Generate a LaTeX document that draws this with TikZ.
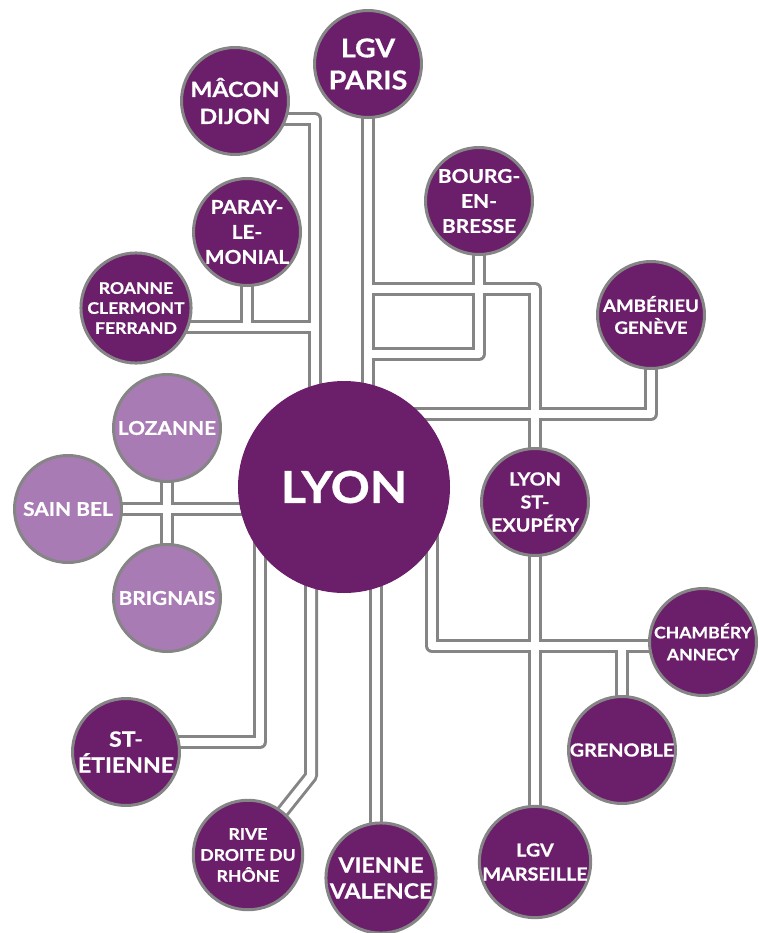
\documentclass[tikz,border=0pt]{standalone}
\usepackage{fontspec}
\setmainfont{Lato}[BoldFeatures={FakeStretch=1.1,FakeBold=0.7}]
\usetikzlibrary{backgrounds}
\definecolor{plum}{HTML}{6B1F6B}
\definecolor{lilac}{HTML}{A97BB4}
\definecolor{rim}{HTML}{858585}
\tikzset{
  stn/.style={circle, fill=plum, draw=rim, line width=3pt, minimum size=107pt,
    inner sep=0pt, text=white, align=center},
  lightstn/.style={stn, fill=lilac},
  hub/.style={circle, fill=plum, minimum size=212pt, inner sep=0pt, text=white,
    font=\bfseries\fontsize{44}{50}\selectfont},
  fs/.style 2 args={font=\bfseries\fontsize{#1}{#2}\selectfont},
  railout/.style={draw=rim, line width=14pt, line join=round, line cap=butt},
  railin/.style={draw=white, line width=8pt, line join=round, line cap=butt}
}
\newcommand\railnet[1]{%
  \draw[#1] (mac.center |- kMac) -- (kMac) -- (kMac |- lyon.center);
  \draw[#1] (roa.center |- kRoa) -- (kRoa);
  \draw[#1] (par.center) -- (par.center |- kRoa);
  \draw[#1] (lgv.center) -- (lgv.center |- lyon.center);
  \draw[#1] (lgv.center |- kPS) -- (kPS) -- (stx.center);
  \draw[#1] (bou.center) -- (kBou) -- (lgv.center |- kBou);
  \draw[#1] (amb.center) -- (kAmb) -- (lyon.center |- kAmb);
  \draw[#1] (stx.center) -- (mar.center);
  \draw[#1] (kCha |- lyon.center) -- (kCha) -- (cha.center |- kCha);
  \draw[#1] (gre.center |- kCha) -- (gre.center);
  \draw[#1] (kSte |- lyon.center) -- (kSte) -- (ste.center |- kSte);
  \draw[#1] (kRiv |- lyon.center) -- (kRiv) -- (riv.center);
  \draw[#1] (kVie |- lyon.center) -- (kVie |- vie.center);
  \draw[#1] (sai.center) -- (sai.center -| lyon.center);
  \draw[#1] (loz.center) -- (bri.center);
}
\begin{document}
\begin{tikzpicture}[x=1pt, y=-1pt]
\useasboundingbox (0,0) rectangle (758,933);
% stations
\node[hub] (lyon) at (344,487) {LYON};
\node[stn, fs={26}{32}] (lgv) at (368,64) {LGV\\PARIS};
\node[stn, fs={21}{27}] (mac) at (235,101) {MÂCON\\DIJON};
\node[stn, fs={19}{25}] (par) at (247,232) {PARAY-\\LE-\\MONIAL};
\node[stn, fs={16}{20}] (roa) at (136,308) {ROANNE\\CLERMONT\\FERRAND};
\node[stn, fs={19}{25}] (bou) at (479,201) {BOURG-\\EN-\\BRESSE};
\node[stn, fs={17}{22}] (amb) at (651,315) {AMBÉRIEU\\GENÈVE};
\node[stn, fs={18}{23}] (stx) at (535,502) {LYON\\ST-\\EXUPÉRY};
\node[lightstn, fs={19}{24}] (loz) at (167,428) {LOZANNE};
\node[lightstn, fs={19}{24}] (sai) at (68,509) {SAIN BEL};
\node[lightstn, fs={19}{24}] (bri) at (167,598) {BRIGNAIS};
\node[stn, fs={16}{22}] (cha) at (703,642) {CHAMBÉRY\\ANNECY};
\node[stn, fs={18}{24}] (gre) at (622,750) {GRENOBLE};
\node[stn, fs={18}{24}] (mar) at (535,862) {LGV\\MARSEILLE};
\node[stn, fs={21}{26}] (ste) at (126,752) {ST-\\ÉTIENNE};
\node[stn, fs={16}{21}] (riv) at (248,855) {RIVE\\DROITE DU\\RHÔNE};
\node[stn, fs={21}{26}] (vie) at (381,878) {VIENNE\\VALENCE};
% bends
\coordinate (kMac) at (315,119);
\coordinate (kRoa) at (315,327);
\coordinate (kPS) at (535,289);
\coordinate (kBou) at (479,354);
\coordinate (kAmb) at (651,414);
\coordinate (kCha) at (432,646);
\coordinate (kSte) at (260,742);
\coordinate (kRiv) at (311,776);
\coordinate (kVie) at (376,0);
\begin{scope}[on background layer]
  \railnet{railout}
  \railnet{railin}
\end{scope}
\end{tikzpicture}
\end{document}
